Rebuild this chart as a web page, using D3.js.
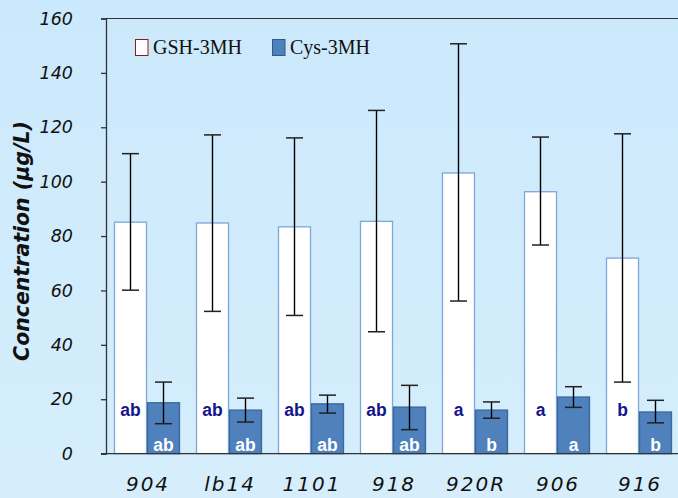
<!DOCTYPE html>
<html><head><meta charset="utf-8">
<script src="https://cdn.jsdelivr.net/npm/d3@7/dist/d3.min.js"></script>
<style>html,body{margin:0;padding:0;overflow:hidden;background:#cdeafc;}</style>
</head><body>
<svg id="c" width="678" height="498"></svg>
<script>
const categories = ["904","lb14","1101","918","920R","906","916"];
const seriesNames = ["GSH-3MH","Cys-3MH"];
const gshMean = [85.1, 84.8, 83.4, 85.4, 103.2, 96.3, 71.9];
const gshLow  = [60.1, 52.3, 50.8, 44.8, 56.1, 76.7, 26.3];
const gshHigh = [110.3, 117.2, 116.1, 126.2, 150.7, 116.4, 117.6];
const cysMean = [18.7, 16.0, 18.3, 17.1, 16.0, 20.8, 15.3];
const cysLow  = [11.0, 11.6, 14.9, 8.8, 13.0, 17.0, 11.3];
const cysHigh = [26.3, 20.4, 21.5, 25.1, 19.0, 24.6, 19.6];
const gshLetters = ["ab","ab","ab","ab","a","a","b"];
const cysLetters = ["ab","ab","ab","ab","b","a","b"];
const yTicks = [0,20,40,60,80,100,120,140,160];

const svg = d3.select("#c");
const defs = svg.append("defs");
const grad = defs.append("linearGradient").attr("id","bg").attr("x1",0).attr("y1",0).attr("x2",0).attr("y2",1);
grad.append("stop").attr("offset","0%").attr("stop-color","#cbe9fc");
grad.append("stop").attr("offset","100%").attr("stop-color","#d6eefc");
svg.append("rect").attr("width",678).attr("height",498).attr("fill","url(#bg)");

const mLeft = 106, mRight = 680, mTop = 18.5, mBottom = 453.6;
const x = d3.scaleBand().domain(categories).range([mLeft, mRight]).paddingInner(16/82).paddingOuter(8/82);
const xs = d3.scaleBand().domain(seriesNames).range([0, x.bandwidth()]);
const y = d3.scaleLinear().domain([0,160]).range([mBottom, mTop]);

const handFont = "'DejaVu Sans','Noto Sans',sans-serif";

// plot area top border
svg.append("line").attr("x1",mLeft).attr("x2",678).attr("y1",y(160)).attr("y2",y(160))
  .attr("stroke","#333").attr("stroke-width",1.2);

const data = categories.map((c,i)=>({c, vals:[
  {s:"GSH-3MH", m:gshMean[i], lo:gshLow[i], hi:gshHigh[i], L:gshLetters[i]},
  {s:"Cys-3MH", m:cysMean[i], lo:cysLow[i], hi:cysHigh[i], L:cysLetters[i]}]}));

const g = svg.append("g").selectAll("g").data(data).join("g")
  .attr("transform", d=>`translate(${x(d.c)},0)`);

g.selectAll("rect").data(d=>d.vals).join("rect")
  .attr("x", d=>xs(d.s)+0.5).attr("width", xs.bandwidth()-1)
  .attr("y", d=>y(d.m)).attr("height", d=>y(0)-y(d.m))
  .attr("fill", d=>d.s==="GSH-3MH" ? "#ffffff" : "#4f81bd")
  .attr("stroke", d=>d.s==="GSH-3MH" ? "#7ea6d9" : "#3a679c")
  .attr("stroke-width", 1.3);

// error bars
const eb = g.selectAll("g.eb").data(d=>d.vals).join("g").attr("class","eb");
eb.append("line").attr("x1", d=>xs(d.s)+xs.bandwidth()/2).attr("x2", d=>xs(d.s)+xs.bandwidth()/2)
  .attr("y1", d=>y(d.lo)).attr("y2", d=>y(d.hi)).attr("stroke","#000").attr("stroke-width",1.4);
eb.append("line").attr("x1", d=>xs(d.s)+xs.bandwidth()/2-8.5).attr("x2", d=>xs(d.s)+xs.bandwidth()/2+8.5)
  .attr("y1", d=>y(d.hi)).attr("y2", d=>y(d.hi)).attr("stroke","#222").attr("stroke-width",1.5);
eb.append("line").attr("x1", d=>xs(d.s)+xs.bandwidth()/2-8.5).attr("x2", d=>xs(d.s)+xs.bandwidth()/2+8.5)
  .attr("y1", d=>y(d.lo)).attr("y2", d=>y(d.lo)).attr("stroke","#222").attr("stroke-width",1.5);

// letters
g.selectAll("text.lt").data(d=>d.vals).join("text").attr("class","lt")
  .attr("x", d=>xs(d.s)+xs.bandwidth()/2)
  .attr("y", d=>d.s==="GSH-3MH" ? 415.7 : 451)
  .attr("text-anchor","middle")
  .attr("font-family","Arial, 'Liberation Sans', sans-serif").attr("font-weight","bold").attr("font-size",17.5)
  .attr("fill", d=>d.s==="GSH-3MH" ? "#14148c" : "#ffffff")
  .text(d=>d.L);

// y axis
const yAxis = d3.axisLeft(y).tickValues(yTicks).tickSize(5).tickPadding(28);
const ya = svg.append("g").attr("transform",`translate(${mLeft},0)`).call(yAxis);
ya.select(".domain").attr("stroke","#333").attr("stroke-width",1.3);
ya.selectAll(".tick line").attr("stroke","#333").attr("stroke-width",1.3);
ya.selectAll(".tick text").attr("font-family",handFont).attr("font-style","oblique").attr("font-size",17.5).attr("fill","#111");

// x axis
const xAxis = d3.axisBottom(x).tickSize(0).tickPadding(0);
const xa = svg.append("g").attr("transform",`translate(0,${mBottom})`).call(xAxis);
xa.select(".domain").attr("stroke","#333").attr("stroke-width",1.3).attr("d",`M${mLeft-5},0H${mRight}`);
xa.selectAll(".tick text").attr("font-family",handFont).attr("font-style","oblique").attr("font-size",20)
  .attr("letter-spacing",2).attr("fill","#111").attr("dy",null).attr("y",37.5).attr("dx",1);

// y label
svg.append("text").attr("transform","translate(29,241) rotate(-90)").attr("text-anchor","middle")
  .attr("font-family",handFont).attr("font-weight","bold").attr("font-style","oblique").attr("font-size",20.5).attr("fill","#111")
  .text("Concentration (μg/L)");

// legend
const leg = svg.append("g");
const legItems = [{s:"GSH-3MH", x:135, fill:"#ffffff", stroke:"#8b1a1a"},{s:"Cys-3MH", x:272, fill:"#4f81bd", stroke:"#2f5a8c"}];
leg.selectAll("rect").data(legItems).join("rect").attr("x",d=>d.x+0.5).attr("y",39.5).attr("width",12.5).attr("height",16)
  .attr("fill",d=>d.fill).attr("stroke",d=>d.stroke).attr("stroke-width",1);
leg.selectAll("text").data(legItems).join("text").attr("x",d=>d.x+18).attr("y",54)
  .attr("font-family","'Liberation Serif','Times New Roman',serif").attr("font-size",20).attr("fill","#111")
  .text(d=>d.s);
</script>
</body></html>
